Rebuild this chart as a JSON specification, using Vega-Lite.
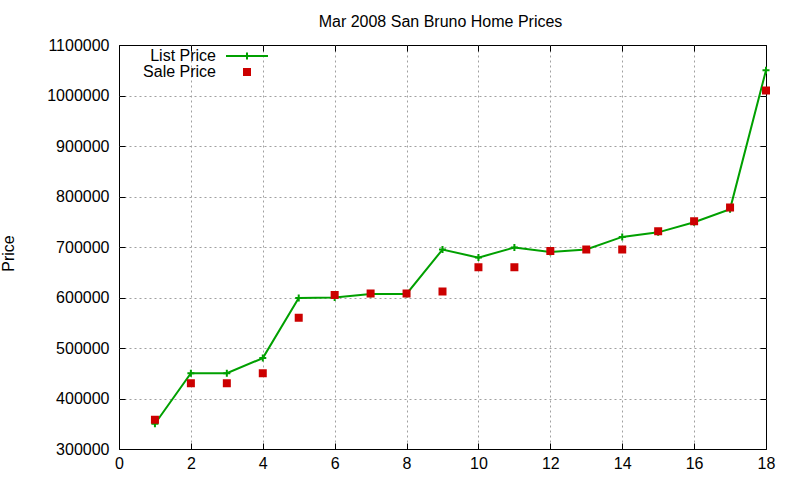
{
  "$schema": "https://vega.github.io/schema/vega-lite/v6.json",
  "description": "Mar 2008 San Bruno home prices, list vs sale, gnuplot style.",
  "autosize": "none",
  "padding": {"left": 119, "top": 45, "right": 34, "bottom": 31},
  "width": 647,
  "height": 404,
  "background": "white",
  "config": {
    "view": {"stroke": "black", "strokeWidth": 1},
    "font": "Liberation Sans",
    "axis": {
      "labelFont": "Liberation Sans",
      "labelFontSize": 16,
      "labelColor": "black",
      "titleFont": "Liberation Sans",
      "titleFontSize": 16,
      "titleFontWeight": "normal",
      "titleColor": "black",
      "tickColor": "black",
      "labelFlush": false,
      "labelOverlap": false
    },
    "legend": {"labelFont": "Liberation Sans", "labelFontSize": 16, "labelColor": "black"}
  },
  "title": {
    "text": "Mar 2008 San Bruno Home Prices",
    "font": "Liberation Sans",
    "fontSize": 16,
    "fontWeight": "normal",
    "color": "black",
    "frame": "group",
    "baseline": "alphabetic",
    "offset": 18,
    "anchor": "middle",
    "dx": -2,
    "dy": 24
  },
  "data": {
    "values": [
      {"house": 1, "price": 350000, "series": "List Price"},
      {"house": 2, "price": 450000, "series": "List Price"},
      {"house": 3, "price": 450000, "series": "List Price"},
      {"house": 4, "price": 480000, "series": "List Price"},
      {"house": 5, "price": 599000, "series": "List Price"},
      {"house": 6, "price": 600000, "series": "List Price"},
      {"house": 7, "price": 607000, "series": "List Price"},
      {"house": 8, "price": 607000, "series": "List Price"},
      {"house": 9, "price": 695000, "series": "List Price"},
      {"house": 10, "price": 679000, "series": "List Price"},
      {"house": 11, "price": 699000, "series": "List Price"},
      {"house": 12, "price": 690000, "series": "List Price"},
      {"house": 13, "price": 695000, "series": "List Price"},
      {"house": 14, "price": 720000, "series": "List Price"},
      {"house": 15, "price": 729000, "series": "List Price"},
      {"house": 16, "price": 749000, "series": "List Price"},
      {"house": 17, "price": 775000, "series": "List Price"},
      {"house": 18, "price": 1050000, "series": "List Price"},
      {"house": 1, "price": 358000, "series": "Sale Price"},
      {"house": 2, "price": 430000, "series": "Sale Price"},
      {"house": 3, "price": 430000, "series": "Sale Price"},
      {"house": 4, "price": 450000, "series": "Sale Price"},
      {"house": 5, "price": 560000, "series": "Sale Price"},
      {"house": 6, "price": 605000, "series": "Sale Price"},
      {"house": 7, "price": 608000, "series": "Sale Price"},
      {"house": 8, "price": 608000, "series": "Sale Price"},
      {"house": 9, "price": 612000, "series": "Sale Price"},
      {"house": 10, "price": 660000, "series": "Sale Price"},
      {"house": 11, "price": 660000, "series": "Sale Price"},
      {"house": 12, "price": 692000, "series": "Sale Price"},
      {"house": 13, "price": 695000, "series": "Sale Price"},
      {"house": 14, "price": 695000, "series": "Sale Price"},
      {"house": 15, "price": 731000, "series": "Sale Price"},
      {"house": 16, "price": 751000, "series": "Sale Price"},
      {"house": 17, "price": 778000, "series": "Sale Price"},
      {"house": 18, "price": 1010000, "series": "Sale Price"}
    ]
  },
  "encoding": {
    "x": {
      "field": "house",
      "type": "quantitative",
      "scale": {"domain": [0, 18], "nice": false, "zero": false}
    },
    "y": {
      "field": "price",
      "type": "quantitative",
      "scale": {"domain": [300000, 1100000], "nice": false, "zero": false}
    }
  },
  "layer": [
    {
      "transform": [{"filter": "datum.series === 'List Price'"}],
      "mark": {"type": "line", "color": "#00a000", "strokeWidth": 2},
      "encoding": {
        "x": {
          "field": "house",
          "type": "quantitative",
          "axis": {
            "orient": "bottom",
            "values": [2, 4, 6, 8, 10, 12, 14, 16],
            "grid": true,
            "gridColor": "#a0a0a0",
            "gridDash": [2, 3],
            "gridWidth": 1,
            "gridOpacity": 1,
            "ticks": false,
            "labels": false,
            "domain": false,
            "title": null
          }
        },
        "y": {
          "field": "price",
          "type": "quantitative",
          "axis": {
            "orient": "left",
            "values": [400000, 500000, 600000, 700000, 800000, 900000, 1000000],
            "grid": true,
            "gridColor": "#a0a0a0",
            "gridDash": [2, 3],
            "gridWidth": 1,
            "gridOpacity": 1,
            "ticks": false,
            "labels": false,
            "domain": false,
            "title": null
          }
        }
      }
    },
    {
      "transform": [{"filter": "datum.series === 'List Price'"}],
      "mark": {
        "type": "point",
        "shape": "M-1,0H1M0,-1V1",
        "filled": false,
        "stroke": "#00a000",
        "strokeWidth": 2,
        "size": 49,
        "opacity": 1
      },
      "encoding": {
        "x": {
          "field": "house",
          "type": "quantitative",
          "axis": {
            "orient": "top",
            "values": [0, 2, 4, 6, 8, 10, 12, 14, 16, 18],
            "grid": false,
            "ticks": true,
            "tickSize": -6,
            "labels": false,
            "domain": false,
            "title": null
          }
        },
        "y": {
          "field": "price",
          "type": "quantitative",
          "axis": {
            "orient": "right",
            "values": [300000, 400000, 500000, 600000, 700000, 800000, 900000, 1000000, 1100000],
            "grid": false,
            "ticks": true,
            "tickSize": -6,
            "labels": false,
            "domain": false,
            "title": null
          }
        }
      }
    },
    {
      "transform": [{"filter": "datum.series === 'Sale Price'"}],
      "mark": {
        "type": "point",
        "filled": true,
        "size": 100,
        "strokeWidth": 2,
        "opacity": 1
      },
      "encoding": {
        "x": {
          "field": "house",
          "type": "quantitative",
          "axis": {
            "orient": "bottom",
            "values": [0, 2, 4, 6, 8, 10, 12, 14, 16, 18],
            "grid": false,
            "ticks": true,
            "tickSize": -6,
            "labelPadding": 12,
            "domain": false,
            "title": null
          }
        },
        "y": {
          "field": "price",
          "type": "quantitative",
          "axis": {
            "orient": "left",
            "values": [300000, 400000, 500000, 600000, 700000, 800000, 900000, 1000000, 1100000],
            "format": "d",
            "grid": false,
            "ticks": true,
            "tickSize": -6,
            "labelPadding": 16,
            "domain": false,
            "title": "Price",
            "titleAngle": 270,
            "titleAlign": "center",
            "titleBaseline": "alphabetic",
            "titleX": -106,
            "titleY": 208
          }
        },
        "color": {
          "field": "series",
          "type": "nominal",
          "scale": {"domain": ["List Price", "Sale Price"], "range": ["#00a000", "#cc0000"]},
          "legend": {
            "orient": "none",
            "legendX": 120,
            "legendY": 3,
            "title": null,
            "padding": 0,
            "rowPadding": 0,
            "symbolSize": 100,
            "symbolStrokeWidth": 2,
            "symbolOpacity": 1,
            "labelAlign": "right",
            "labelOffset": -39
          }
        },
        "stroke": {
          "field": "series",
          "type": "nominal",
          "scale": {"domain": ["List Price", "Sale Price"], "range": ["#00a000", "#cc0000"]}
        },
        "shape": {
          "field": "series",
          "type": "nominal",
          "scale": {
            "domain": ["List Price", "Sale Price"],
            "range": ["M-4.2,0H4.2M0,-0.7V0.7", "M-0.6,-0.6H0.6V0.6H-0.6Z"]
          }
        }
      }
    }
  ],
  "resolve": {"axis": {"x": "independent", "y": "independent"}}
}
